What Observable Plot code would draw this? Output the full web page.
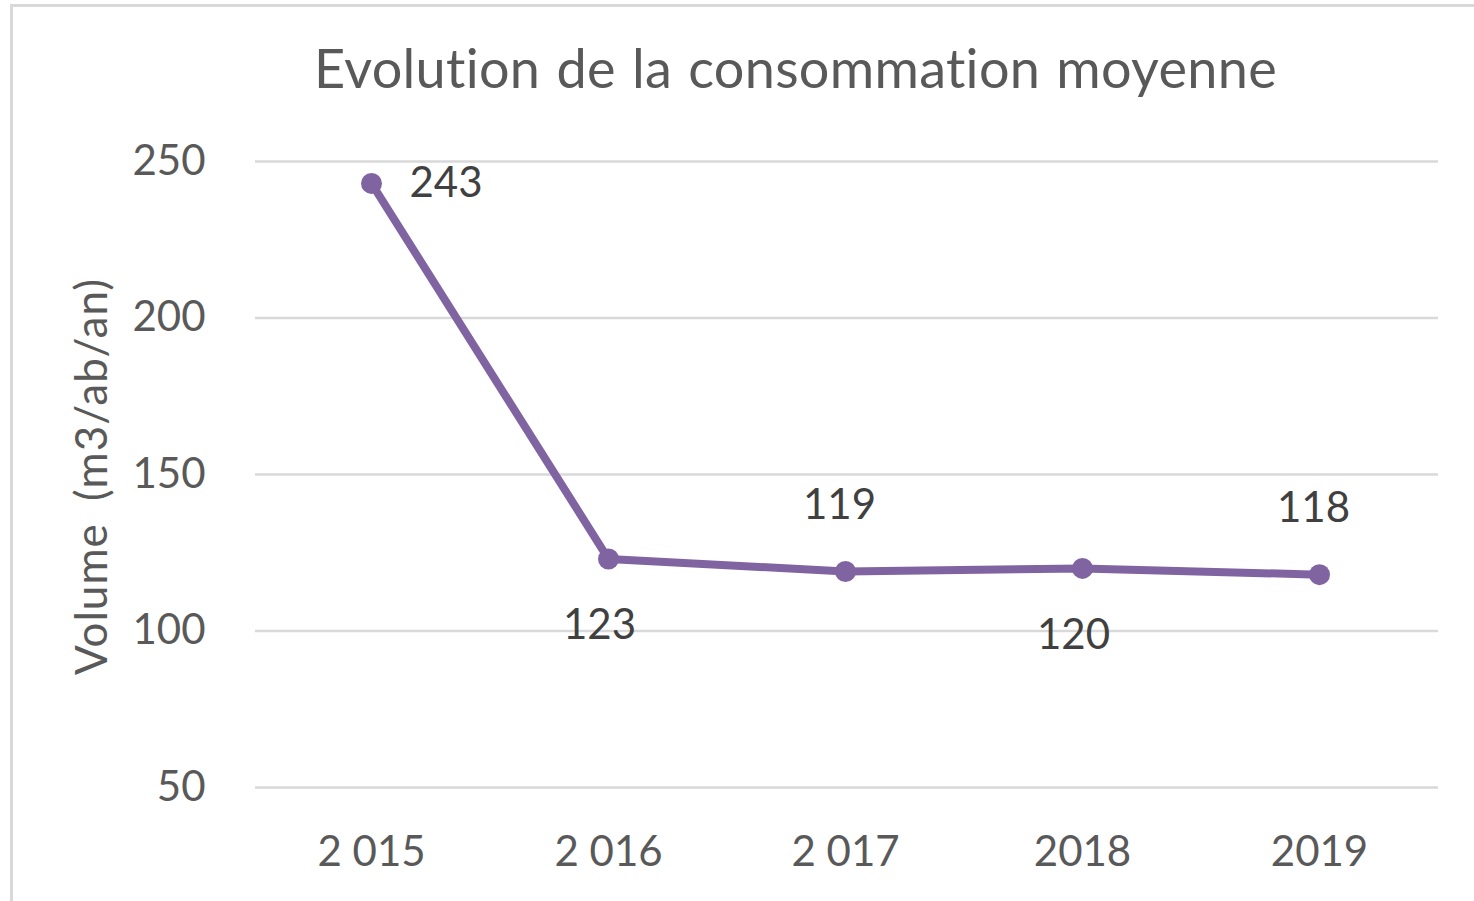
<!DOCTYPE html>
<html>
<head>
<meta charset="utf-8">
<script src="https://cdn.jsdelivr.net/npm/d3@7"></script>
<script src="https://cdn.jsdelivr.net/npm/@observablehq/plot@0.6"></script>
<style>
  html, body { margin: 0; padding: 0; background: #fff; overflow: hidden; }
  #wrap { position: relative; width: 1474px; height: 901px; font-family: Lato, sans-serif; }
  #frame { position: absolute; left: 10px; top: 4px; width: 1600px; height: 1000px; border: 3px solid #d9d9d9; box-sizing: border-box; }
  #title { position: absolute; left: 0; top: 0; width: 1591px; height: 120px; text-align: center; font-size: 54px; color: #595959; line-height: 136px; white-space: nowrap; font-variant-ligatures: none; letter-spacing: 0.3px; word-spacing: 2px; }
  #chart { position: absolute; left: 0; top: 120px; }
  #chart text { font-variant-ligatures: none; }
  #chart .ylabel text { letter-spacing: 1px; word-spacing: 10px; }
</style>
</head>
<body>
<div id="wrap">
  <div id="frame"></div>
  <div id="title">Evolution de la consommation moyenne</div>
  <div id="chart"></div>
</div>
<script>
const years = ["2 015", "2 016", "2 017", "2018", "2019"];
const values = [243, 123, 119, 120, 118];
const labelPlacement = ["right", "below", "above", "below", "above"];
const yTicks = [50, 100, 150, 200, 250];
const yLabel = "Volume (m3/ab/an)";

const data = years.map((y, i) => ({year: y, value: values[i], pos: labelPlacement[i]}));
const purple = "#8064A2";

const plot = Plot.plot({
  width: 1474,
  height: 781,
  marginLeft: 255,
  marginRight: 36,
  marginTop: 41,
  marginBottom: 114,
  style: {fontFamily: "Lato, sans-serif", background: "transparent"},
  x: {type: "point", domain: years, range: [370, 1320], padding: 0},
  y: {domain: [50, 250]},
  marks: [
    Plot.gridY(yTicks, {stroke: "#d9d9d9", strokeOpacity: 1, strokeWidth: 2.5}),
    Plot.axisY(yTicks, {tickSize: 0, tickPadding: 50, fontSize: 42, fill: "#595959", label: null}),
    Plot.axisX({tickSize: 0, tickPadding: 49, fontSize: 42, fill: "#595959", label: null}),
    Plot.text([yLabel], {frameAnchor: "left", rotate: -90, dx: -163, dy: 2, fontSize: 44, fill: "#595959", textAnchor: "middle", lineAnchor: "middle", className: "ylabel"}),
    Plot.line(data, {x: "year", y: "value", stroke: purple, strokeWidth: 8, strokeLinejoin: "round"}),
    Plot.dot(data, {x: "year", y: "value", r: 10.5, fill: purple, stroke: null}),
    Plot.text(data.filter(d => d.pos === "right"), {x: "year", y: "value", text: d => String(d.value), dx: 38, textAnchor: "start", lineAnchor: "middle", fontSize: 42, fill: "#404040"}),
    Plot.text(data.filter(d => d.pos === "above"), {x: "year", y: "value", text: d => String(d.value), dx: -6, dy: -66, lineAnchor: "middle", fontSize: 42, fill: "#404040"}),
    Plot.text(data.filter(d => d.pos === "below"), {x: "year", y: "value", text: d => String(d.value), dx: -9, dy: 67, lineAnchor: "middle", fontSize: 42, fill: "#404040"})
  ]
});
document.getElementById("chart").appendChild(plot);
</script>
</body>
</html>
